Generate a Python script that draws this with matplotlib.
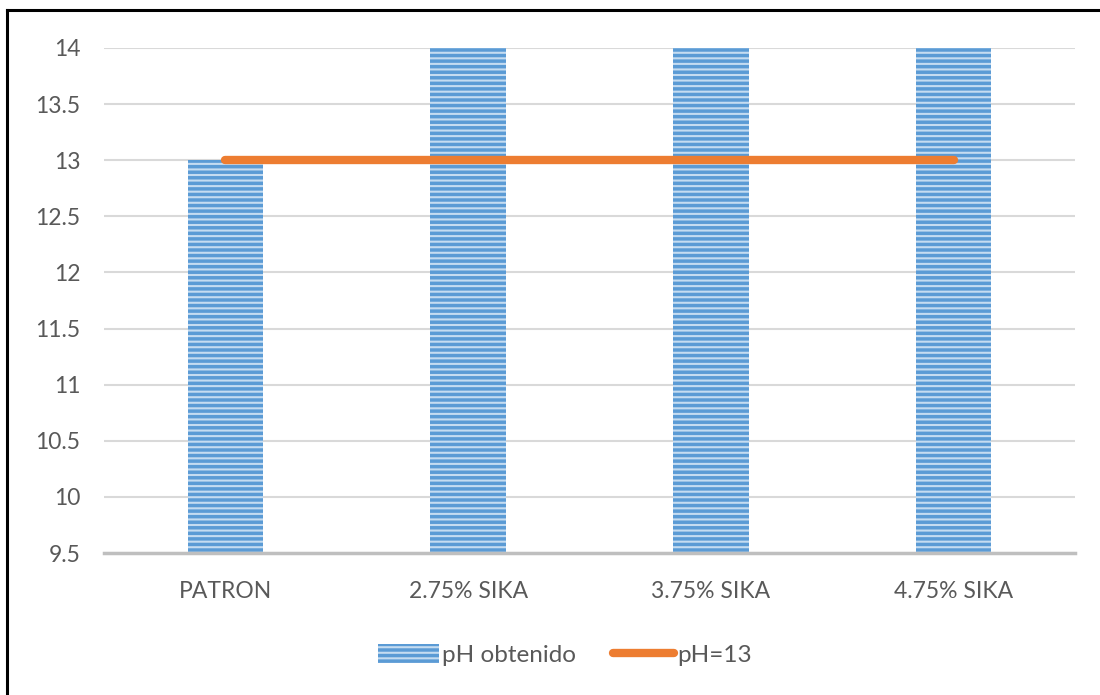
import matplotlib
matplotlib.use("Agg")
import matplotlib.pyplot as plt
from matplotlib.lines import Line2D
from matplotlib.patches import Patch

categories = ["PATRON", "2.75% SIKA", "3.75% SIKA", "4.75% SIKA"]
ph_obtenido = [13, 14, 14, 14]
ph_ref = [13, 13, 13, 13]
yticks = [9.5, 10, 10.5, 11, 11.5, 12, 12.5, 13, 13.5, 14]

plt.rcParams['font.family'] = ['Lato', 'DejaVu Sans']
plt.rcParams['hatch.linewidth'] = 1.5

BLUE = '#5b9bd5'
STRIPE = '#c5dcf1'
W, H = 1100, 695
fig = plt.figure(figsize=(W/100, H/100), dpi=100)
ax = fig.add_axes([104/W, 1-553/H, (1075-104)/W, (553-48)/H])

x = list(range(len(categories)))
ax.bar(x, [v - 9.5 for v in ph_obtenido], bottom=9.5, width=0.31,
       facecolor=BLUE, edgecolor=STRIPE, linewidth=0, hatch='---', zorder=2)
ax.plot(x, ph_ref, color='#ed7d31', lw=6, solid_capstyle='round', zorder=3)

ax.set_xlim(-0.5, 3.5)
ax.set_ylim(9.5, 14)
ax.set_yticks(yticks)
ax.set_yticklabels([f"{t:g}" for t in yticks])
ax.set_xticks(x)
ax.set_xticklabels(categories)
ax.tick_params(axis='both', length=0, labelsize=16.5, colors='#595959')
ax.tick_params(axis='y', pad=17)
ax.tick_params(axis='x', pad=20)
ax.grid(axis='y', color='#d9d9d9', lw=1.5, zorder=0)
ax.set_axisbelow(True)
for s in ['top', 'right', 'left']:
    ax.spines[s].set_visible(False)
ax.spines['bottom'].set_color('#bfbfbf')
ax.spines['bottom'].set_linewidth(2.5)
ax.spines['bottom'].set_zorder(4)

handles = [Patch(facecolor=BLUE, edgecolor=STRIPE, linewidth=0, hatch='---'),
           Line2D([0], [0], color='#ed7d31', lw=6, solid_capstyle='round')]
leg = fig.legend(handles, ['pH obtenido', 'pH=13'], loc='center',
                 bbox_to_anchor=(565/W, 1-655/H), ncol=2, frameon=False,
                 fontsize=17.5, handlelength=2.5, handleheight=0.8,
                 handletextpad=0.15, columnspacing=1.5, labelcolor='#595959')

# outer frame: top and left edges
fig.add_artist(Line2D([7/W, 7/W], [0, 1-10/H], transform=fig.transFigure,
                      color='black', lw=2.2))
fig.add_artist(Line2D([7/W, 1], [1-10/H, 1-10/H], transform=fig.transFigure,
                      color='black', lw=2.2))

fig.savefig("out.png", dpi=100)
